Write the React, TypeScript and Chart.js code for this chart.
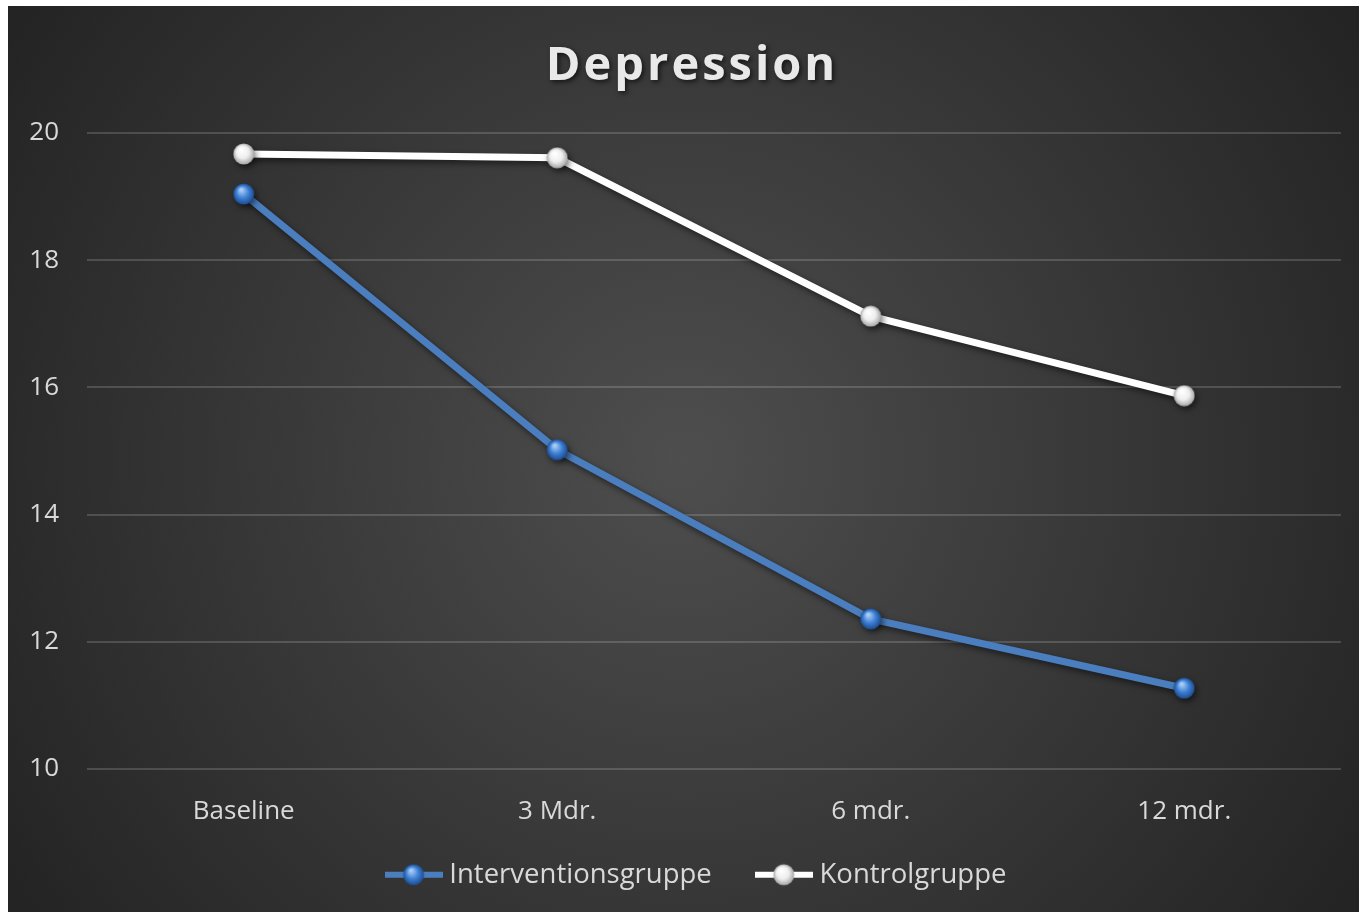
import React, { useEffect, useRef } from "react";
import { Chart, registerables } from "chart.js";

Chart.register(...registerables);

const chartTitle = "Depression";
const categories = ["Baseline", "3 Mdr.", "6 mdr.", "12 mdr."];
const seriesNames = ["Interventionsgruppe", "Kontrolgruppe"];
const interventionValues = [19.04, 15.02, 12.36, 11.27];
const controlValues = [19.67, 19.61, 17.12, 15.87];
const yMin = 10;
const yMax = 20;
const yStep = 2;

const FONT = "'Open Sans', 'DejaVu Sans', sans-serif";
const TEXT = "#d9d9d9";

function makeSphere(light: string, mid: string, dark: string, size: number): HTMLCanvasElement {
  const c = document.createElement("canvas");
  c.width = size;
  c.height = size;
  const ctx = c.getContext("2d")!;
  const r = size / 2 - 0.5;
  const g = ctx.createRadialGradient(size * 0.38, size * 0.3, 1, size / 2, size / 2, r);
  g.addColorStop(0, light);
  g.addColorStop(0.55, mid);
  g.addColorStop(1, dark);
  ctx.fillStyle = g;
  ctx.beginPath();
  ctx.arc(size / 2, size / 2, r, 0, Math.PI * 2);
  ctx.fill();
  return c;
}

function makeLegendIcon(color: string, sphere: HTMLCanvasElement): HTMLCanvasElement {
  const w = 58;
  const h = 24;
  const c = document.createElement("canvas");
  c.width = w;
  c.height = h;
  const ctx = c.getContext("2d")!;
  ctx.strokeStyle = color;
  ctx.lineWidth = 6;
  ctx.beginPath();
  ctx.moveTo(0, h / 2);
  ctx.lineTo(w, h / 2);
  ctx.stroke();
  ctx.drawImage(sphere, (w - sphere.width) / 2, (h - sphere.height) / 2);
  return c;
}

export default function App() {
  const ref = useRef<HTMLCanvasElement>(null);

  useEffect(() => {
    if (!ref.current) return;
    const blueSphere = makeSphere("#a9cdf7", "#3d7fd3", "#1d4c8f", 22);
    const whiteSphere = makeSphere("#ffffff", "#eeeeee", "#a6a6a6", 22);
    const blueIcon = makeLegendIcon("#4a7ebf", blueSphere);
    const whiteIcon = makeLegendIcon("#ffffff", whiteSphere);
    const icons = [blueIcon, whiteIcon];

    const bgPlugin = {
      id: "bgPlugin",
      afterLayout(chart: any) {
        const lg = chart.legend;
        if (lg) {
          lg.left = 40;
          lg.right = chart.width - 9;
          lg.top = 805;
          lg.bottom = chart.height;
          lg.height = lg.bottom - lg.top;
        }
      },
      beforeDraw(chart: any) {
        const { ctx, width, height } = chart;
        ctx.save();
        const g = ctx.createRadialGradient(width * 0.5, height * 0.5, 0, width * 0.5, height * 0.5, Math.hypot(width, height) / 2);
        g.addColorStop(0, "#4e4e4e");
        g.addColorStop(1, "#232323");
        ctx.fillStyle = g;
        ctx.fillRect(0, 0, width, height);
        ctx.restore();
      },
      afterDraw(chart: any) {
        const { ctx } = chart;
        ctx.save();
        ctx.font = `bold 47px ${FONT}`;
        (ctx as any).letterSpacing = "3px";
        ctx.textAlign = "center";
        ctx.textBaseline = "middle";
        ctx.shadowColor = "rgba(0,0,0,0.65)";
        ctx.shadowBlur = 5;
        ctx.shadowOffsetX = 2;
        ctx.shadowOffsetY = 2;
        ctx.fillStyle = "#e9e9e9";
        ctx.fillText(chartTitle, 684, 61);
        ctx.restore();
      },
      beforeDatasetDraw(chart: any) {
        const ctx = chart.ctx;
        ctx.save();
        ctx.shadowColor = "rgba(0,0,0,0.55)";
        ctx.shadowBlur = 6;
        ctx.shadowOffsetX = 2;
        ctx.shadowOffsetY = 3;
      },
      afterDatasetDraw(chart: any) {
        chart.ctx.restore();
      },
    };

    const chart = new Chart(ref.current, {
      type: "line",
      data: {
        labels: categories,
        datasets: [
          {
            label: seriesNames[0],
            data: interventionValues,
            borderColor: "#4a7ebf",
            backgroundColor: "#4a7ebf",
            borderWidth: 7,
            pointStyle: blueSphere as any,
            pointRadius: 11,
            tension: 0,
          },
          {
            label: seriesNames[1],
            data: controlValues,
            borderColor: "#ffffff",
            backgroundColor: "#ffffff",
            borderWidth: 7,
            pointStyle: whiteSphere as any,
            pointRadius: 11,
            tension: 0,
          },
        ],
      },
      options: {
        animation: false,
        responsive: true,
        maintainAspectRatio: false,
        layout: { padding: { top: 127, left: 0, right: 9, bottom: 0 } },
        scales: {
          x: {
            offset: true,
            grid: { display: false, drawTicks: false },
            border: { display: false },
            ticks: { color: TEXT, font: { family: FONT, size: 26 }, padding: 27 },
            afterFit(scale: any) {
              scale.height = 83;
            },
          },
          y: {
            min: yMin,
            max: yMax,
            border: { display: false },
            grid: { color: "rgba(255,255,255,0.16)", lineWidth: 2, drawTicks: false },
            ticks: { stepSize: yStep, color: TEXT, font: { family: FONT, size: 26 }, padding: 28 },
            afterFit(scale: any) {
              scale.width = 79;
            },
          },
        },
        plugins: {
          title: { display: false },
          tooltip: { enabled: false },
          legend: {
            display: true,
            position: "bottom",
            maxHeight: 60,
            labels: {
              color: TEXT,
              font: { family: FONT, size: 27.5 },
              usePointStyle: true,
              pointStyleWidth: 44,
              padding: 50,
              generateLabels: (ch: any) =>
                ch.data.datasets.map((ds: any, i: number) => ({
                  text: ds.label,
                  fillStyle: ds.borderColor,
                  strokeStyle: ds.borderColor,
                  lineWidth: 0,
                  pointStyle: icons[i],
                  fontColor: TEXT,
                  hidden: false,
                  datasetIndex: i,
                })),
            },
          },
        },
      },
      plugins: [bgPlugin],
    });
    return () => chart.destroy();
  }, []);

  return (
    <div style={{ position: "fixed", left: 8, top: 6, width: 1351, height: 906 }}>
      <canvas ref={ref} />
    </div>
  );
}
